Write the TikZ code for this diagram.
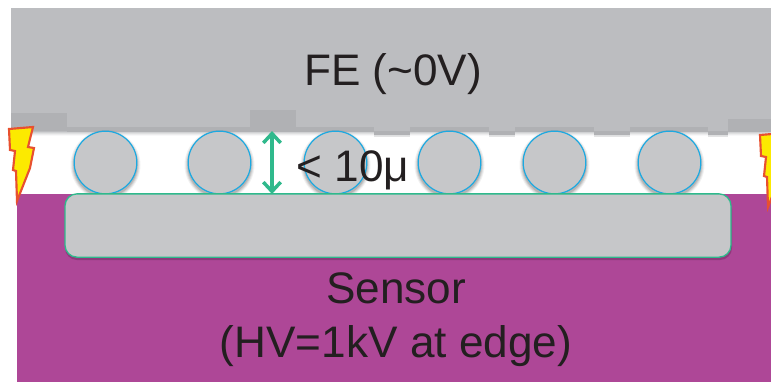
\documentclass[tikz,border=0pt]{standalone}
\usepackage{fontspec}
\setmainfont{Liberation Sans}
\usetikzlibrary{arrows.meta}
\definecolor{fegrey}{HTML}{BCBDC0}
\definecolor{fedark}{HTML}{B0B1B4}
\definecolor{fill2}{HTML}{C6C7C9}
\definecolor{purp}{HTML}{AE4797}
\definecolor{cyanl}{HTML}{1CA9E1}
\definecolor{greenl}{HTML}{2FB98C}
\definecolor{ink}{HTML}{231F20}
\definecolor{bolty}{HTML}{FCEA00}
\definecolor{boltr}{HTML}{E8502F}
\tikzset{
  x=0.75pt,y=-0.75pt,
  band/.style={fill=fedark,draw=none},
  ball/.style={circle,draw=cyanl,line width=0.9pt,fill=fill2,minimum size=47pt,inner sep=0pt},
  label/.style={text=ink,font=\fontsize{33.1pt}{39.8pt}\selectfont,align=center,inner sep=0pt},
  bolt/.style={fill=bolty,draw=boltr,line width=1.6pt,line join=miter},
}
\newcommand{\boltshape}{(9,129) -- (33,127) -- (28,147) -- (34,148) -- (30,168) -- (17,201) -- (16,171) -- (13,170) -- (15,151) -- (10,150) -- cycle}
\begin{document}
\begin{tikzpicture}
\useasboundingbox (0,0) rectangle (771,383);
\clip (0,0) rectangle (771,383);
\fill[white] (0,0) rectangle (771,383);
% soft shadow under the front end
\foreach \d/\o in {1/0.30,2/0.22,3/0.15,4/0.08}
  \fill[fedark,opacity=\o] (11,132) rectangle (771,{132+\d});
% front end
\fill[fegrey] (11,8) rectangle (771,132);
\foreach \a/\b/\c/\e in {11/113/67/131,67/127/181/132,181/127/250/132,250/110/296/132,296/127/374/132,410/127/489/132,515/127/594/132,630/127/708/132,728/119/771/132}
  \fill[band] (\a,\b) rectangle (\c,\e);
\foreach \a/\c in {374/410,489/515,594/630,708/728}{
  \fill[fedark] (\a,131) rectangle (\c,135);
  \fill[fedark,opacity=.35] (\a,135) rectangle (\c,137);
}
% sensor
\fill[purp] (17,194) rectangle (771,382);
% bolts
\draw[bolt] \boltshape;
\begin{scope}[shift={(751,6)}]
\draw[bolt] \boltshape;
\end{scope}
% shadows of the balls
\foreach \cx in {105.5,219.5,335.5,449.5,554.5,669.5}
  \foreach \r/\o in {35/0.05,34/0.07,33/0.09,32/0.11}
    \fill[black,opacity=\o] (\cx,165) circle[radius=\r*0.75pt];
% balls
\node[ball] (b1) at (105.5,162.5) {};
\node[ball] (b2) at (219.5,162.5) {};
\node[ball] (b3) at (335.5,162.5) {};
\node[ball] (b4) at (449.5,162.5) {};
\node[ball] (b5) at (554.5,162.5) {};
\node[ball] (b6) at (669.5,162.5) {};
% sensor plate
\fill[black,opacity=.18,rounded corners=9pt] (65,197) rectangle (732,260);
\node[draw=greenl,line width=1pt,fill=fill2,rounded corners=9pt,minimum width=499.5pt,minimum height=47.5pt,inner sep=0pt] (plate) at (398,225.5) {};
% gap arrow
\coordinate (gaptop) at (272,131);
\coordinate (gapbot) at (272,194);
\draw[greenl,line width=2.6pt,{Straight Barb[length=7pt,width=13pt,line width=2.6pt]}-{Straight Barb[length=7pt,width=13pt,line width=2.6pt]}] (gaptop) -- (gapbot);
% labels
\node[label] (fe) at (393,74) {FE (\char`\~0V)};
\node[label] (gap) at (353,170) {< 10μ};
\node[label] (sensor) at (396,320) {Sensor\\[0.6pt](HV=1kV at edge)};
\end{tikzpicture}
\end{document}
